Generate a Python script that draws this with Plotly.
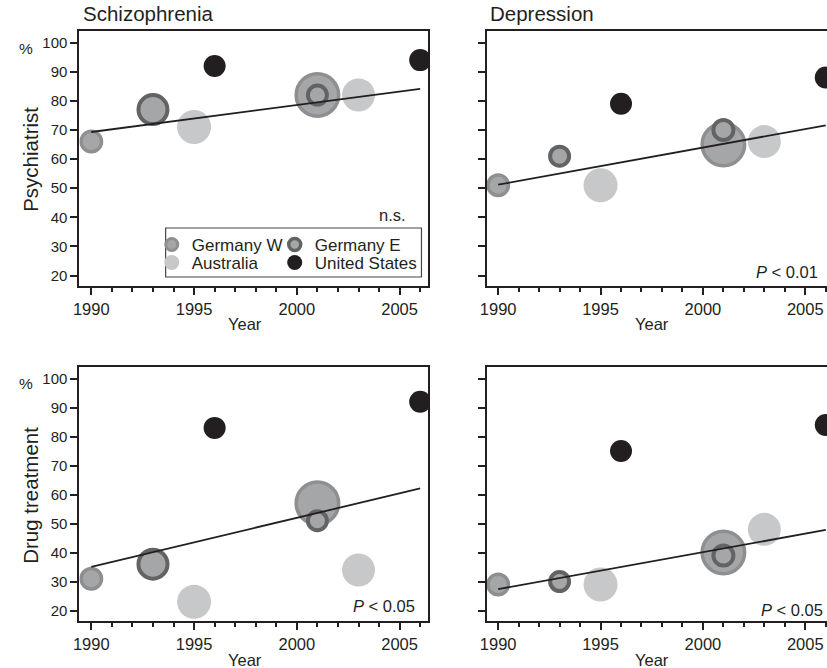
import plotly.graph_objects as go

W, H = 827, 668

# ---------------- data ----------------
years_gw = [1990, 2001]   # Germany W survey years
years_ge = [1993, 2001]   # Germany E survey years
years_au = [1995, 2003]   # Australia survey years
years_us = [1996, 2006]   # United States survey years

# Psychiatrist – Schizophrenia (%)
psy_sch_gw = [66, 82]
psy_sch_ge = [77, 82]
psy_sch_au = [71, 82]
psy_sch_us = [92, 94]
# Psychiatrist – Depression (%)
psy_dep_gw = [51, 65]
psy_dep_ge = [61, 70]
psy_dep_au = [51, 66]
psy_dep_us = [79, 88]
# Drug treatment – Schizophrenia (%)
drg_sch_gw = [31, 57]
drg_sch_ge = [36, 51]
drg_sch_au = [23, 34]
drg_sch_us = [83, 92]
# Drug treatment – Depression (%)
drg_dep_gw = [29, 40]
drg_dep_ge = [30, 39]
drg_dep_au = [29, 48]
drg_dep_us = [75, 84]

# regression lines (value at 1990 and at 2006)
trend_years = [1990, 2006]
trend_psy_sch = [69.3, 84.1]
trend_psy_dep = [51.2, 71.6]
trend_drg_sch = [35.1, 62.1]
trend_drg_dep = [27.4, 47.8]

# bubble diameters (sample size)
bub_gw = [24, 46]
bub_ge_sch = [33, 23]
bub_ge_dep = [23, 24]
bub_au = [34, 33]
bub_us = [22, 22]

x_ticks = [1990, 1995, 2000, 2005]
y_ticks = [20, 30, 40, 50, 60, 70, 80, 90, 100]
countries = ["Germany W", "Germany E", "Australia", "United States"]
p_labels = ["n.s.", "<i>P</i> &lt; 0.01", "<i>P</i> &lt; 0.05", "<i>P</i> &lt; 0.05"]
col_titles = ["Schizophrenia", "Depression"]
row_titles = ["Psychiatrist", "Drug treatment"]

# ---------------- style ----------------
INK = "#231f20"
GW_FILL, GW_LINE = "#a5a6a8", "#8e8f91"
GE_FILL, GE_LINE = "#a5a6a8", "#626365"
AU_FILL = "#c7c8ca"
FONT = "Liberation Sans, Arial, Helvetica, sans-serif"
GW_LW, GE_LW = 3.5, 4.0


def px(xp):
    return xp / W


def py(yp):
    return 1 - yp / H


fig = go.Figure()

panels = [
    ("x", "y", psy_sch_gw, psy_sch_ge, psy_sch_au, psy_sch_us, bub_ge_sch, trend_psy_sch),
    ("x2", "y2", psy_dep_gw, psy_dep_ge, psy_dep_au, psy_dep_us, bub_ge_dep, trend_psy_dep),
    ("x3", "y3", drg_sch_gw, drg_sch_ge, drg_sch_au, drg_sch_us, bub_ge_sch, trend_drg_sch),
    ("x4", "y4", drg_dep_gw, drg_dep_ge, drg_dep_au, drg_dep_us, bub_ge_dep, trend_drg_dep),
]

for xa, ya, gw, ge, au, us, bub_ge, trend in panels:
    common = dict(xaxis=xa, yaxis=ya, mode="markers", showlegend=False, hoverinfo="skip")
    fig.add_trace(go.Scatter(x=years_au, y=au, marker=dict(size=bub_au, color=AU_FILL, opacity=1,
                                                           line=dict(width=0)), **common))
    fig.add_trace(go.Scatter(x=years_gw, y=gw, marker=dict(size=[d - GW_LW for d in bub_gw], color=GW_FILL,
                                                           opacity=1, line=dict(width=GW_LW, color=GW_LINE)),
                             **common))
    fig.add_trace(go.Scatter(x=years_ge, y=ge, marker=dict(size=[d - GE_LW for d in bub_ge], color=GE_FILL,
                                                           opacity=1, line=dict(width=GE_LW, color=GE_LINE)),
                             **common))
    fig.add_trace(go.Scatter(x=years_us, y=us, marker=dict(size=bub_us, color=INK, opacity=1,
                                                           line=dict(width=0)), **common))
    fig.add_trace(go.Scatter(x=trend_years, y=trend, xaxis=xa, yaxis=ya, mode="lines",
                             line=dict(color=INK, width=1.8), showlegend=False, hoverinfo="skip"))

# legend-only entries, one small legend each (2 x 2 grid)
leg_styles = [
    (countries[0], "legend", dict(size=12, color=GW_FILL, opacity=1, line=dict(width=3, color=GW_LINE))),
    (countries[1], "legend2", dict(size=12, color=GE_FILL, opacity=1, line=dict(width=3.5, color=GE_LINE))),
    (countries[2], "legend3", dict(size=15, color=AU_FILL, opacity=1, line=dict(width=0))),
    (countries[3], "legend4", dict(size=15, color=INK, opacity=1, line=dict(width=0))),
]
for name, leg, mk in leg_styles:
    fig.add_trace(go.Scatter(x=[None], y=[None], mode="markers", name=name, marker=mk, legend=leg,
                             xaxis="x", yaxis="y", hoverinfo="skip"))


def xcfg(domain, rng, anchor):
    return dict(domain=domain, range=rng, anchor=anchor, tickmode="array", tickvals=x_ticks,
                ticks="outside", ticklen=7, tickwidth=1.5, tickcolor=INK,
                showline=True, linewidth=2, linecolor=INK, mirror=True,
                showgrid=False, zeroline=False, tickfont=dict(size=16.5, color=INK, family=FONT),
                minor=dict(dtick=1, tick0=1990, ticks="outside", ticklen=4, tickwidth=1.5,
                           tickcolor=INK, showgrid=False))


def ycfg(domain, anchor, labels, mirror):
    return dict(domain=domain, range=[16.4, 104], anchor=anchor, tickmode="array", tickvals=y_ticks,
                ticks="outside", ticklen=7, tickwidth=1.5, tickcolor=INK,
                showline=True, linewidth=2, linecolor=INK, mirror=mirror,
                showgrid=False, zeroline=False, showticklabels=labels,
                tickfont=dict(size=15, color=INK, family=FONT))


def legcfg(xp, yp):
    return dict(orientation="h", x=px(xp), xanchor="left", y=py(yp), yanchor="top",
                bgcolor="rgba(0,0,0,0)", borderwidth=0,
                font=dict(size=17, color=INK, family=FONT))


xl = [px(73), px(425)]
xr = [px(484), 1.0]
yt = [py(286), py(31)]
yb = [py(621), py(367)]
rng_l = [1989.42, 2006.40]
rng_r = [1989.45, 2006.06]

fig.update_layout(
    width=W, height=H, margin=dict(l=0, r=0, t=0, b=0),
    paper_bgcolor="white", plot_bgcolor="white",
    font=dict(family=FONT, color=INK),
    xaxis=xcfg(xl, rng_l, "y"), yaxis=ycfg(yt, "x", True, True),
    xaxis2=xcfg(xr, rng_r, "y2"), yaxis2=ycfg(yt, "x2", False, False),
    xaxis3=xcfg(xl, rng_l, "y3"), yaxis3=ycfg(yb, "x3", True, True),
    xaxis4=xcfg(xr, rng_r, "y4"), yaxis4=ycfg(yb, "x4", False, False),
    legend=legcfg(146, 227),
    legend2=legcfg(270, 227),
    legend3=legcfg(146, 245),
    legend4=legcfg(270, 245),
    shapes=[dict(type="rect", xref="paper", yref="paper", x0=px(160), x1=px(418), y0=py(277), y1=py(228),
                 line=dict(color="#444444", width=1.2), fillcolor="rgba(0,0,0,0)")],
    showlegend=True,
)

ann = []
ann.append(dict(text=col_titles[0], x=px(75), y=py(13), xanchor="left", yanchor="middle", font=dict(size=20.5)))
ann.append(dict(text=col_titles[1], x=px(485), y=py(13), xanchor="left", yanchor="middle", font=dict(size=20.5)))
ann.append(dict(text=row_titles[0], x=px(23), y=py(159), textangle=-90, xanchor="center", yanchor="middle",
                font=dict(size=20.5)))
ann.append(dict(text=row_titles[1], x=px(23), y=py(495), textangle=-90, xanchor="center", yanchor="middle",
                font=dict(size=20.5)))
ann.append(dict(text="%", x=px(19), y=py(48), xanchor="center", yanchor="middle", font=dict(size=15.5)))
ann.append(dict(text="%", x=px(19), y=py(383), xanchor="center", yanchor="middle", font=dict(size=15.5)))
for xr_, yp in [("x", 324), ("x2", 324), ("x3", 660), ("x4", 660)]:
    ann.append(dict(text="Year", xref=xr_, yref="paper", x=1997.5, y=py(yp), xanchor="center",
                    yanchor="middle", font=dict(size=16.5)))
for txt, xp_, yp in zip(p_labels, [404, 820, 413, 825], [215, 272, 606, 610]):
    ann.append(dict(text=txt, x=px(xp_), y=py(yp), xanchor="right", yanchor="middle", font=dict(size=16.5)))

for a in ann:
    a.setdefault("xref", "paper")
    a.setdefault("yref", "paper")
    a["showarrow"] = False
    a["font"].update(color=INK, family=FONT)
fig.update_layout(annotations=ann)

fig.write_html("out.html", config={"displayModeBar": False},
               post_script="document.body.style.margin='0';document.body.style.overflow='hidden';")
